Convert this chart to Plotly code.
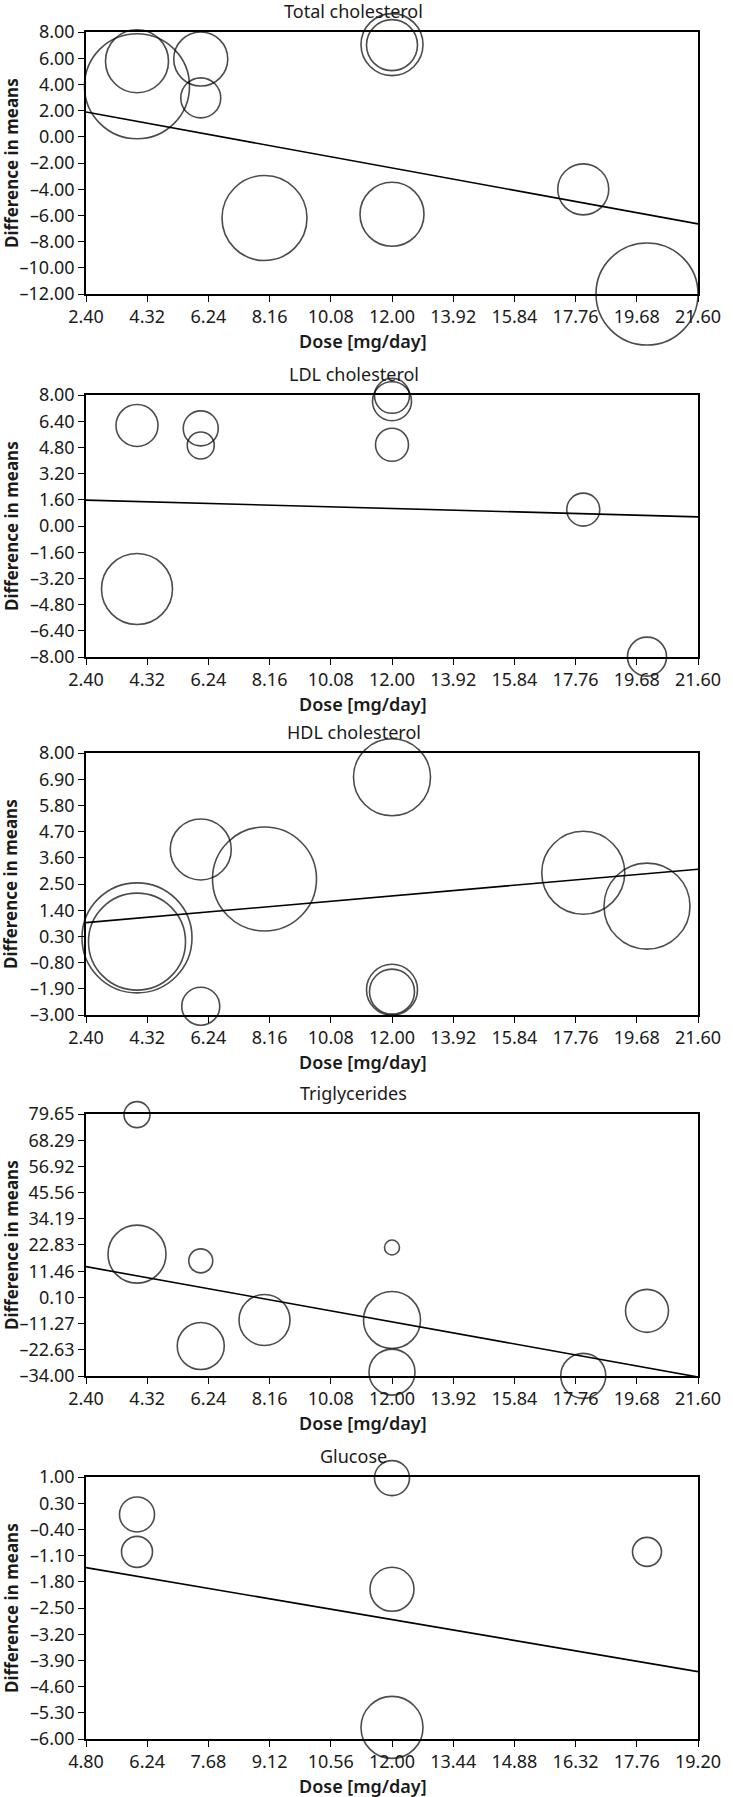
import plotly.graph_objects as go

# ---- data ----
titles = ["Total cholesterol", "LDL cholesterol", "HDL cholesterol", "Triglycerides", "Glucose"]

tc_dose = [4, 4, 6, 6, 12, 12, 8, 12, 18, 20]
tc_diff = [3.86, 5.77, 5.94, 2.97, 7.04, 7.00, -6.20, -5.91, -4.01, -12.0]
tc_size = [105, 63, 54, 40, 62, 51, 85, 64, 51, 102]
tc_fit = [1.89, -6.65]

ldl_dose = [4, 6, 6, 12, 12, 12, 18, 4, 20]
ldl_diff = [6.14, 5.96, 4.92, 7.95, 7.62, 4.96, 1.00, -3.85, -7.98]
ldl_size = [42, 35, 27, 35, 39, 33, 33, 71, 39]
ldl_fit = [1.58, 0.56]

hdl_dose = [4, 4, 6, 6, 8, 12, 12, 12, 18, 20]
hdl_diff = [0.24, 0.08, 3.95, -2.63, 2.71, 6.98, -1.94, -2.02, 2.97, 1.57]
hdl_size = [110, 97, 61, 38, 104, 77, 51, 45, 83, 86]
hdl_fit = [0.88, 3.12]

tg_dose = [4, 4, 6, 6, 8, 12, 12, 12, 18, 20]
tg_diff = [79.36, 18.85, 15.96, -20.99, -9.71, 21.74, -9.71, -32.34, -33.93, -5.73]
tg_size = [26, 58, 24, 47, 51, 15, 57, 46, 45, 43]
tg_fit = [13.43, -34.43]

glu_dose = [6, 6, 12, 12, 12, 18]
glu_diff = [0.0, -1.0, 0.97, -2.0, -5.69, -1.0]
glu_size = [35, 31, 35, 44, 62, 29]
glu_fit = [-1.42, -4.20]

dose_ticks = ["2.40", "4.32", "6.24", "8.16", "10.08", "12.00", "13.92", "15.84", "17.76", "19.68", "21.60"]
glu_dose_ticks = ["4.80", "6.24", "7.68", "9.12", "10.56", "12.00", "13.44", "14.88", "16.32", "17.76", "19.20"]

tc_ticks = ["8.00", "6.00", "4.00", "2.00", "0.00", "-2.00", "-4.00", "-6.00", "-8.00", "-10.00", "-12.00"]
ldl_ticks = ["8.00", "6.40", "4.80", "3.20", "1.60", "0.00", "-1.60", "-3.20", "-4.80", "-6.40", "-8.00"]
hdl_ticks = ["8.00", "6.90", "5.80", "4.70", "3.60", "2.50", "1.40", "0.30", "-0.80", "-1.90", "-3.00"]
tg_ticks = ["79.65", "68.29", "56.92", "45.56", "34.19", "22.83", "11.46", "0.10", "-11.27", "-22.63", "-34.00"]
glu_ticks = ["1.00", "0.30", "-0.40", "-1.10", "-1.80", "-2.50", "-3.20", "-3.90", "-4.60", "-5.30", "-6.00"]

panels = [
    (tc_dose, tc_diff, tc_size, tc_fit, dose_ticks, tc_ticks),
    (ldl_dose, ldl_diff, ldl_size, ldl_fit, dose_ticks, ldl_ticks),
    (hdl_dose, hdl_diff, hdl_size, hdl_fit, dose_ticks, hdl_ticks),
    (tg_dose, tg_diff, tg_size, tg_fit, dose_ticks, tg_ticks),
    (glu_dose, glu_diff, glu_size, glu_fit, glu_dose_ticks, glu_ticks),
]

# ---- layout geometry (pixels) ----
W, H = 733, 1797
L, R, T, B = 86, 27, 32, 58
plot_w = W - L - R
plot_h = H - T - B
tops = [32, 395, 753, 1114, 1477]
panel_h = 262

FONT = "Noto Sans"
INK = "#1a1a1a"


def px_x(x):
    return (x - L) / plot_w


def px_y(y):
    return (H - B - y) / plot_h


def lab(s):
    return s.replace("-", "\u2013")


fig = go.Figure()
annotations = []

for i, (dose, diff, size, fit, xt, yt) in enumerate(panels):
    n = "" if i == 0 else str(i + 1)
    xa, ya = "x" + n, "y" + n
    xv = [float(t) for t in xt]
    yv = [float(t) for t in yt]

    # meta-regression line
    fig.add_trace(go.Scatter(
        x=[xv[0], xv[-1]], y=fit, mode="lines",
        line=dict(color="black", width=1.6),
        xaxis=xa, yaxis=ya, showlegend=False, hoverinfo="skip"))

    # study bubbles
    fig.add_trace(go.Scatter(
        x=dose, y=diff, mode="markers",
        marker=dict(size=size, sizemode="diameter", color="rgba(0,0,0,0)",
                    line=dict(color="black", width=1.6)),
        cliponaxis=False, xaxis=xa, yaxis=ya, showlegend=False))

    top = tops[i]
    bot = top + panel_h
    axis_common = dict(showline=True, linecolor="black", linewidth=1.6, mirror=True,
                       ticks="outside", ticklen=6, tickwidth=1.4, tickcolor="black",
                       showgrid=False, zeroline=False,
                       tickfont=dict(family=FONT, size=18, color=INK))
    fig.layout["xaxis" + n] = dict(
        axis_common, domain=[0, 1], range=[xv[0], xv[-1]], anchor=ya,
        tickmode="array", tickvals=xv, ticktext=xt)
    fig.layout["yaxis" + n] = dict(
        axis_common, domain=[px_y(bot), px_y(top)], range=[yv[-1], yv[0]], anchor=xa,
        tickmode="array", tickvals=yv, ticktext=[lab(t) for t in yt])

    annotations.append(dict(
        text=titles[i], x=px_x(357), y=px_y(top - 21), xref="paper", yref="paper",
        xanchor="center", yanchor="middle", showarrow=False,
        font=dict(family=FONT, size=18, color=INK)))
    annotations.append(dict(
        text="Dose [mg/day]", x=px_x(367), y=px_y(bot + 47), xref="paper", yref="paper",
        xanchor="center", yanchor="middle", showarrow=False,
        font=dict(family=FONT, size=18, color=INK, weight=600)))
    annotations.append(dict(
        text="Difference in means", x=px_x(10), y=px_y((top + bot) / 2),
        xref="paper", yref="paper", textangle=-90,
        xanchor="center", yanchor="middle", showarrow=False,
        font=dict(family=FONT, size=17, color=INK, weight="bold")))

fig.update_layout(
    width=W, height=H,
    margin=dict(l=L, r=R, t=T, b=B),
    plot_bgcolor="white", paper_bgcolor="white",
    annotations=annotations,
)

fig.write_html("out.html", config={"displayModeBar": False},
               post_script="document.body.style.margin='0';")
